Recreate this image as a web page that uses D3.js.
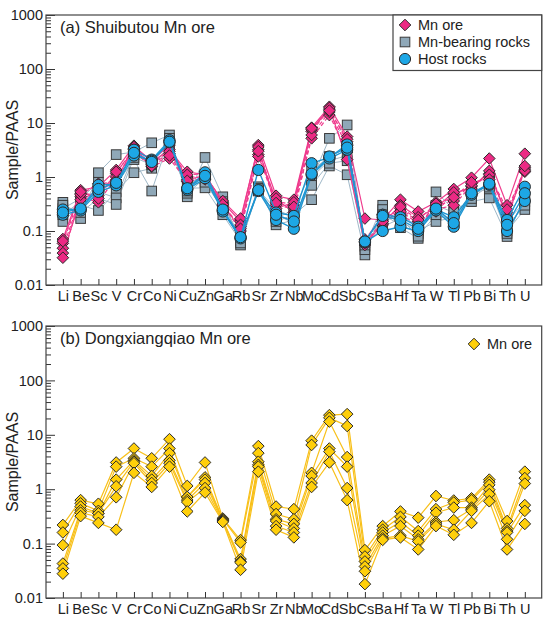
<!DOCTYPE html>
<html><head><meta charset="utf-8">
<script src="https://cdn.jsdelivr.net/npm/d3@7"></script>
<style>body{margin:0;background:#fff}svg{display:block;font-family:"Liberation Sans",Arial,sans-serif}</style>
</head><body>
<svg id="c" width="550" height="624"></svg>
<script>
const elements = ["Li","Be","Sc","V","Cr","Co","Ni","Cu","Zn","Ga","Rb","Sr","Zr","Nb","Mo","Cd","Sb","Cs","Ba","Hf","Ta","W","Tl","Pb","Bi","Th","U"];
const yTicks = [0.01,0.1,1,10,100,1000];
const yTickLabels = ["0.01","0.1","1","10","100","1000"];

// Panel (a) Shuibutou: per element, values of each sample
const shuiMnOre = [
 [0.071,0.059,0.048,0.039,0.032,0.065],
 [0.57,0.50,0.43,0.38,0.47,0.53],
 [0.66,0.46,0.34,0.55,0.75,0.40],
 [1.35,1.17,1.0,0.88,0.80,1.25],
 [3.8,3.4,2.9,3.6,3.2,3.0],
 [1.9,1.7,1.55,2.0,1.8,1.6],
 [3.2,2.75,2.2,3.9,3.0,2.5],
 [1.25,1.0,0.82,0.9,1.1,0.85],
 [1.1,1.0,0.95,1.05,1.15,0.9],
 [0.34,0.30,0.32,0.36,0.28,0.31],
 [0.15,0.12,0.10,0.17,0.13,0.11],
 [3.9,3.2,2.6,3.6,2.4,3.0],
 [0.45,0.36,0.30,0.26,0.40,0.33],
 [0.38,0.30,0.26,0.34,0.22,0.28],
 [8.2,7.0,5.2,7.5,6.0,8.0],
 [20,18,14,19,16,17],
 [5.6,4.5,2.9,2.1,3.8,5.0],
 [0.17,0.06,0.065,0.055,0.07,0.06],
 [0.16,0.13,0.20,0.14,0.18,0.15],
 [0.38,0.26,0.20,0.30,0.23,0.28],
 [0.23,0.15,0.13,0.18,0.14,0.16],
 [0.34,0.23,0.30,0.27,0.25,0.32],
 [0.60,0.48,0.36,0.52,0.30,0.42],
 [0.97,0.66,0.75,0.60,0.70,0.80],
 [2.2,1.15,1.0,1.3,1.1,0.9],
 [0.30,0.20,0.22,0.18,0.25,0.16],
 [2.7,1.5,1.25,1.4,1.3,1.6]
];
const shuiMnRocks = [
 [0.34,0.26,0.15,0.20,0.30],
 [0.17,0.40,0.30,0.35,0.22],
 [1.2,0.8,0.24,0.53,0.40],
 [2.6,0.73,0.53,0.41,0.31],
 [2.9,2.1,1.2,2.6,2.3],
 [4.3,0.55,1.45,2.0,1.7],
 [6.0,5.2,4.0,4.6,3.5],
 [0.43,0.62,0.50,0.70,0.55],
 [2.3,0.63,0.95,0.80,1.1],
 [0.43,0.20,0.30,0.25,0.35],
 [0.055,0.065,0.08,0.07,0.06],
 [0.66,0.60,0.55,0.62,0.58],
 [0.13,0.15,0.20,0.17,0.25],
 [0.16,0.20,0.14,0.25,0.18],
 [0.88,0.38,1.0,1.3,0.70],
 [5.2,1.6,2.0,2.4,1.8],
 [9.2,1.1,2.5,3.5,2.0],
 [0.052,0.036,0.06,0.045,0.055],
 [0.30,0.25,0.15,0.20,0.12],
 [0.115,0.15,0.20,0.13,0.17],
 [0.073,0.10,0.12,0.09,0.08],
 [0.53,0.15,0.25,0.30,0.20],
 [0.25,0.18,0.13,0.22,0.15],
 [0.35,0.45,0.50,0.40,0.55],
 [0.41,0.80,0.60,0.70,0.65],
 [0.079,0.10,0.15,0.12,0.09],
 [0.43,0.25,0.35,0.30,0.40]
];
const shuiHost = [
 [0.25,0.20,0.22],[0.25,0.24,0.26],[0.71,0.53,0.60],[0.73,0.70,0.78],[3.2,2.5,2.8],
 [2.1,2.0,1.9],[4.8,4.4,4.5],[0.60,0.58,0.62],[1.22,0.95,1.05],[0.24,0.23,0.25],
 [0.075,0.073,0.077],[1.35,0.55,0.57],[0.22,0.16,0.20],[0.19,0.11,0.15],[1.8,1.1,1.15],
 [2.3,2.2,2.4],[4.0,3.2,3.5],[0.063,0.062,0.064],[0.20,0.10,0.19],[0.18,0.12,0.16],
 [0.12,0.10,0.11],[0.25,0.24,0.26],[0.18,0.12,0.14],[0.48,0.47,0.50],[0.73,0.72,0.75],
 [0.16,0.10,0.13],[0.66,0.36,0.50]
];
// Panel (b) Dongxiangqiao Mn ore
const dongMnOre = [
 [0.22,0.16,0.094,0.043,0.035,0.028],
 [0.63,0.55,0.48,0.41,0.37,0.32],
 [0.54,0.40,0.36,0.36,0.31,0.24],
 [3.1,2.6,1.5,1.13,0.71,0.18],
 [5.6,3.7,3.4,3.2,3.0,2.0],
 [3.7,2.6,1.75,1.5,1.3,1.1],
 [8.3,5.6,4.6,3.4,3.0,2.6],
 [1.15,0.72,0.72,0.63,0.58,0.39],
 [3.1,1.65,1.5,1.3,1.05,0.87],
 [0.29,0.28,0.27,0.27,0.26,0.25],
 [0.116,0.105,0.052,0.047,0.045,0.033],
 [6.2,4.6,3.2,2.8,2.6,2.1],
 [0.48,0.35,0.28,0.26,0.21,0.18],
 [0.43,0.28,0.23,0.19,0.16,0.13],
 [7.8,6.5,2.0,1.75,1.3,1.1],
 [23,20.5,17.5,5.6,4.9,3.1],
 [24,14.5,3.9,2.6,1.05,0.63],
 [0.076,0.058,0.047,0.038,0.031,0.018],
 [0.21,0.18,0.16,0.14,0.125,0.117],
 [0.39,0.31,0.25,0.21,0.14,0.13],
 [0.30,0.17,0.14,0.12,0.11,0.078],
 [0.75,0.43,0.37,0.25,0.23,0.21],
 [0.62,0.57,0.46,0.27,0.18,0.145],
 [0.68,0.63,0.46,0.43,0.40,0.24],
 [1.5,1.35,1.2,0.98,0.81,0.60],
 [0.26,0.19,0.17,0.16,0.12,0.078],
 [2.1,1.6,1.27,0.51,0.40,0.23]
];

const svg = d3.select("#c");
const L = 46, R = 541.7;
const x = d3.scaleLinear().domain([-0.95, 26.95]).range([L, R]);

function samples(tbl){
  const n = tbl[0].length;
  return d3.range(n).map(s => tbl.map((row,i)=>({i, v: row[s]})));
}

function panel(top, bottom, title, series, legend){
  const y = d3.scaleLog().domain([0.01,1000]).range([bottom, top]);
  const g = svg.append("g");
  const minors = [];
  for (let e=-2;e<3;e++) for (let k=2;k<10;k++) minors.push(k*Math.pow(10,e));
  g.append("g").attr("transform",`translate(${L},0)`)
    .call(d3.axisLeft(y).tickValues(minors).tickSize(-5).tickFormat(""))
    .call(a=>a.select(".domain").remove())
    .selectAll("line").attr("stroke","#333");
  g.append("g").attr("transform",`translate(${L},0)`)
    .call(d3.axisLeft(y).tickValues(yTicks).tickSize(-9).tickPadding(3)
      .tickFormat((d,i)=>yTickLabels[i]))
    .call(a=>a.select(".domain").remove())
    .call(a=>a.selectAll("line").attr("stroke","#333"))
    .call(a=>a.selectAll("text").attr("font-size",14.5).attr("fill","#222")
      .attr("font-family","Liberation Sans, Arial, sans-serif").attr("x",-3));
  g.append("g").attr("transform",`translate(0,${bottom})`)
    .call(d3.axisBottom(x).tickValues(d3.range(elements.length)).tickSize(-6).tickPadding(6)
      .tickFormat(i=>elements[i]))
    .call(a=>a.select(".domain").remove())
    .call(a=>a.selectAll("line").attr("stroke","#333"))
    .call(a=>a.selectAll("text").attr("font-size",14.5).attr("fill","#222")
      .attr("font-family","Liberation Sans, Arial, sans-serif"));
  g.append("rect").attr("x",L).attr("y",top).attr("width",R-L).attr("height",bottom-top)
    .attr("fill","none").attr("stroke","#444").attr("stroke-width",1.2);
  g.append("text").attr("x",L+14).attr("y",top+18).attr("font-size",16.5).attr("fill","#222").text(title);
  g.append("text").attr("transform",`translate(18,${(top+bottom)/2}) rotate(-90)`)
    .attr("text-anchor","middle").attr("font-size",16).attr("fill","#222").text("Sample/PAAS");

  const line = d3.line().x(d=>x(d.i)).y(d=>y(d.v));
  series.forEach(sr=>{
    const ss = samples(sr.data);
    const lg = g.append("g");
    ss.forEach((s,k)=>{
      lg.append("path").attr("d",line(s)).attr("fill","none")
        .attr("stroke",sr.line).attr("stroke-width",sr.lw||1.2)
        .attr("stroke-dasharray", sr.dashed && k%3!==0 ? "4,2.5" : null);
    });
    ss.forEach(s=>{
      s.forEach(d=>drawMarker(lg, sr.shape, x(d.i), y(d.v), sr.fill));
    });
  });
  if (legend) legend(g, top);
}

function drawMarker(g, shape, cx, cy, fill){
  if (shape==="diamond"){
    const r=5.8;
    g.append("path").attr("d",`M${cx},${cy-r}L${cx+r},${cy}L${cx},${cy+r}L${cx-r},${cy}Z`)
      .attr("fill",fill).attr("stroke","#2a2a2a").attr("stroke-width",1);
  } else if (shape==="square"){
    const h=4.8;
    g.append("rect").attr("x",cx-h).attr("y",cy-h).attr("width",2*h).attr("height",2*h)
      .attr("fill",fill).attr("stroke","#3a3a3a").attr("stroke-width",1);
  } else {
    g.append("circle").attr("cx",cx).attr("cy",cy).attr("r",5.6)
      .attr("fill",fill).attr("stroke","#2a2a2a").attr("stroke-width",1);
  }
}

const PINK="#ec2a84", PINKL="#ef3b8d", GREY="#8fa8b8", GREYL="#9fb8c8", BLUE="#1da7e6", BLUEL="#1e96d2", GOLD="#ffcf0a", GOLDL="#f8c01a";

panel(15, 285, "(a) Shuibutou Mn ore", [
  {data: shuiMnRocks, shape:"square", fill:GREY, line:GREYL, lw:1},
  {data: shuiMnOre, shape:"diamond", fill:PINK, line:PINKL, dashed:true, lw:1.2},
  {data: shuiHost, shape:"circle", fill:BLUE, line:BLUEL, lw:1.4}
], (g, top)=>{
  const bx=393, by=top;
  g.append("rect").attr("x",bx).attr("y",by).attr("width",R-bx).attr("height",55.5)
    .attr("fill","#fff").attr("stroke","#444").attr("stroke-width",1.2);
  const items=[["diamond",PINK,"Mn ore"],["square",GREY,"Mn-bearing rocks"],["circle",BLUE,"Host rocks"]];
  items.forEach((it,k)=>{
    const yy = by+10+k*17;
    drawMarker(g,it[0],405,yy,it[1]);
    g.append("text").attr("x",418).attr("y",yy+5).attr("font-size",14.5).attr("fill","#222").text(it[2]);
  });
});

panel(326, 598, "(b) Dongxiangqiao Mn ore", [
  {data: dongMnOre, shape:"diamond", fill:GOLD, line:GOLDL, lw:1.2}
], (g, top)=>{
  drawMarker(g,"diamond",474,top+18,GOLD);
  g.append("text").attr("x",487).attr("y",top+23).attr("font-size",14.5).attr("fill","#222").text("Mn ore");
});
</script>
</body></html>
